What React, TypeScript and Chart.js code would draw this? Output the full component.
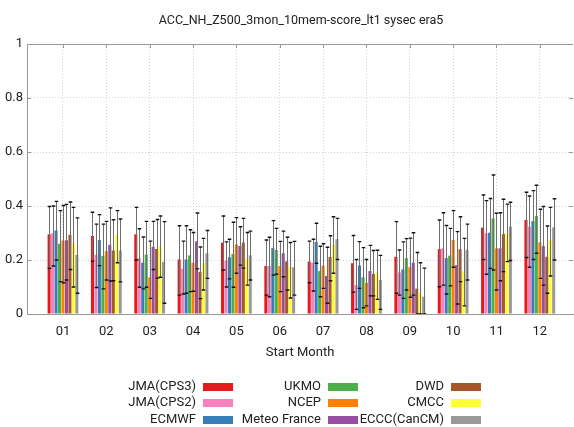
import React, { useEffect, useRef } from 'react';
import { Chart, registerables } from 'chart.js';

Chart.register(...registerables);

const titleText = 'ACC_NH_Z500_3mon_10mem-score_lt1 sysec era5';
const xAxisTitle = 'Start Month';
const months = ['01', '02', '03', '04', '05', '06', '07', '08', '09', '10', '11', '12'];
const yTicks = [0, 0.2, 0.4, 0.6, 0.8, 1];

const seriesNames = ['JMA(CPS3)', 'JMA(CPS2)', 'ECMWF', 'UKMO', 'NCEP', 'Meteo France', 'DWD', 'CMCC', 'ECCC(CanCM)'];
const seriesColors = ['#E41A1C', '#F781BF', '#377EB8', '#4DAF4A', '#FF7F00', '#984EA3', '#A65628', '#FFFF33', '#999999'];

// score values per month
const jmaCps3 = [0.295, 0.289, 0.295, 0.202, 0.264, 0.178, 0.194, 0.188, 0.212, 0.240, 0.320, 0.348];
const jmaCps2 = [0.299, 0.219, 0.207, 0.168, 0.198, 0.178, 0.190, 0.107, 0.154, 0.243, 0.299, 0.323];
const ecmwf = [0.309, 0.274, 0.190, 0.202, 0.210, 0.244, 0.267, 0.180, 0.165, 0.207, 0.301, 0.344];
const ukmo = [0.260, 0.215, 0.220, 0.217, 0.222, 0.237, 0.159, 0.136, 0.207, 0.216, 0.354, 0.363];
const ncep = [0.272, 0.233, 0.136, 0.190, 0.257, 0.178, 0.179, 0.116, 0.173, 0.274, 0.243, 0.265];
const meteoFrance = [0.273, 0.256, 0.249, 0.269, 0.252, 0.225, 0.141, 0.159, 0.190, 0.181, 0.243, 0.252];
const dwd = [0.293, 0.235, 0.241, 0.156, 0.265, 0.195, 0.211, 0.148, 0.094, 0.240, 0.296, 0.212];
const cmcc = [0.262, 0.293, 0.250, 0.188, 0.206, 0.173, 0.256, 0.153, 0.079, 0.157, 0.299, 0.274];
const ecccCanCM = [0.219, 0.235, 0.193, 0.225, 0.217, 0.173, 0.277, 0.126, 0.064, 0.238, 0.323, 0.321];

// error bar upper bounds
const jmaCps3Hi = [0.398, 0.377, 0.395, 0.327, 0.363, 0.274, 0.270, 0.291, 0.342, 0.348, 0.441, 0.451];
const jmaCps2Hi = [0.400, 0.333, 0.316, 0.270, 0.267, 0.284, 0.277, 0.202, 0.237, 0.375, 0.420, 0.437];
const ecmwfHi = [0.417, 0.368, 0.285, 0.327, 0.277, 0.346, 0.336, 0.268, 0.267, 0.328, 0.428, 0.457];
const ukmoHi = [0.383, 0.333, 0.343, 0.312, 0.340, 0.317, 0.251, 0.246, 0.279, 0.317, 0.515, 0.477];
const ncepHi = [0.402, 0.343, 0.270, 0.302, 0.357, 0.269, 0.260, 0.202, 0.281, 0.383, 0.373, 0.388];
const meteoFranceHi = [0.406, 0.393, 0.343, 0.374, 0.323, 0.307, 0.247, 0.254, 0.301, 0.305, 0.375, 0.398];
const dwdHi = [0.415, 0.349, 0.350, 0.248, 0.354, 0.284, 0.290, 0.235, 0.228, 0.360, 0.425, 0.326];
const cmccHi = [0.395, 0.383, 0.363, 0.280, 0.302, 0.265, 0.360, 0.236, 0.190, 0.280, 0.407, 0.395];
const ecccCanCMHi = [0.356, 0.352, 0.342, 0.309, 0.307, 0.269, 0.354, 0.217, 0.170, 0.333, 0.414, 0.427];

// error bar lower bounds
const jmaCps3Lo = [0.169, 0.196, 0.200, 0.070, 0.163, 0.070, 0.116, 0.081, 0.077, 0.101, 0.202, 0.209];
const jmaCps2Lo = [0.178, 0.098, 0.099, 0.074, 0.100, 0.064, 0.085, 0.017, 0.070, 0.107, 0.147, 0.173];
const ecmwfLo = [0.200, 0.179, 0.093, 0.077, 0.130, 0.144, 0.188, 0.095, 0.058, 0.074, 0.169, 0.202];
const ukmoLo = [0.120, 0.093, 0.099, 0.083, 0.099, 0.147, 0.064, 0.023, 0.089, 0.104, 0.163, 0.225];
const ncepLo = [0.116, 0.126, 0.058, 0.084, 0.151, 0.083, 0.095, 0.030, 0.062, 0.173, 0.089, 0.132];
const meteoFranceLo = [0.126, 0.122, 0.165, 0.167, 0.181, 0.138, 0.040, 0.067, 0.070, 0.037, 0.123, 0.107];
const dwdLo = [0.165, 0.123, 0.133, 0.057, 0.170, 0.089, 0.123, 0.067, 0.000, 0.120, 0.157, 0.077];
const cmccLo = [0.100, 0.190, 0.136, 0.089, 0.107, 0.059, 0.151, 0.054, 0.000, 0.030, 0.194, 0.141];
const ecccCanCMLo = [0.077, 0.119, 0.040, 0.132, 0.126, 0.070, 0.202, 0.017, 0.000, 0.126, 0.198, 0.200];

const seriesValues = [jmaCps3, jmaCps2, ecmwf, ukmo, ncep, meteoFrance, dwd, cmcc, ecccCanCM];
const seriesHi = [jmaCps3Hi, jmaCps2Hi, ecmwfHi, ukmoHi, ncepHi, meteoFranceHi, dwdHi, cmccHi, ecccCanCMHi];
const seriesLo = [jmaCps3Lo, jmaCps2Lo, ecmwfLo, ukmoLo, ncepLo, meteoFranceLo, dwdLo, cmccLo, ecccCanCMLo];

const FONT = "Roboto, 'DejaVu Sans', sans-serif";
const TEXT_COLOR = '#222';
const AXIS_COLOR = '#999';

const errorBarPlugin = {
  id: 'errorBars',
  afterDatasetsDraw(chart: any) {
    const { ctx, chartArea } = chart;
    const yScale = chart.scales.y;
    ctx.save();
    ctx.beginPath();
    ctx.rect(chartArea.left, chartArea.top, chartArea.right - chartArea.left, chartArea.bottom - chartArea.top);
    ctx.clip();
    chart.data.datasets.forEach((ds: any, di: number) => {
      const meta = chart.getDatasetMeta(di);
      meta.data.forEach((el: any, i: number) => {
        const hi = ds.errHi[i];
        const lo = ds.errLo[i];
        const x = Math.round(el.x) + 0.5;
        const yh = yScale.getPixelForValue(hi);
        const yl = yScale.getPixelForValue(lo);
        const half = 1.8;
        ctx.strokeStyle = '#6e6e6e';
        ctx.lineWidth = 1;
        ctx.beginPath();
        ctx.moveTo(x, yh);
        ctx.lineTo(x, yl);
        ctx.stroke();
        ctx.strokeStyle = '#111';
        ctx.lineWidth = 1.4;
        ctx.beginPath();
        ctx.moveTo(x - half, yh);
        ctx.lineTo(x + half, yh);
        ctx.moveTo(x - half, yl);
        ctx.lineTo(x + half, yl);
        ctx.stroke();
      });
    });
    ctx.restore();
  },
};

const frameAndLegendPlugin = {
  id: 'frameAndLegend',
  beforeDatasetsDraw(chart: any) {
    const { ctx, chartArea, scales } = chart;
    ctx.save();
    ctx.strokeStyle = AXIS_COLOR;
    ctx.lineWidth = 1;
    ctx.beginPath();
    ctx.moveTo(chartArea.left, chartArea.top + 0.5);
    ctx.lineTo(chartArea.right, chartArea.top + 0.5);
    scales.x.ticks.forEach((t: any) => {
      const px = Math.round(scales.x.getPixelForValue(t.value)) + 0.5;
      ctx.moveTo(px, chartArea.top);
      ctx.lineTo(px, chartArea.top + 4);
    });
    scales.y.ticks.forEach((t: any) => {
      const py = Math.round(scales.y.getPixelForValue(t.value)) + 0.5;
      ctx.moveTo(chartArea.left, py);
      ctx.lineTo(chartArea.left + 4, py);
      ctx.moveTo(chartArea.right, py);
      ctx.lineTo(chartArea.right - 4, py);
    });
    ctx.stroke();
    ctx.restore();
  },
  afterDraw(chart: any) {
    const { ctx, chartArea } = chart;
    ctx.save();
    // title, centred over the plot area
    ctx.font = `12.5px ${FONT}`;
    ctx.fillStyle = TEXT_COLOR;
    ctx.textAlign = 'center';
    ctx.textBaseline = 'middle';
    ctx.fillText(titleText, (chartArea.left + chartArea.right) / 2 + 1, 21);
    // legend: three columns, label then swatch
    const colRight = [196, 321, 444];
    const rowY = [387, 403, 420];
    ctx.font = `13px ${FONT}`;
    ctx.textAlign = 'right';
    chart.data.datasets.forEach((ds: any, k: number) => {
      const col = Math.floor(k / 3);
      const row = k % 3;
      const tx = colRight[col];
      const ty = rowY[row];
      ctx.fillStyle = TEXT_COLOR;
      ctx.fillText(ds.label, tx, ty);
      ctx.fillStyle = ds.backgroundColor;
      ctx.fillRect(tx + 7, ty - 4, 30, 8);
    });
    ctx.restore();
  },
};

export default function App() {
  const canvasRef = useRef<HTMLCanvasElement | null>(null);

  useEffect(() => {
    if (!canvasRef.current) return;
    const datasets = seriesNames.map((name, k) => ({
      label: name,
      data: seriesValues[k].map((v, i) => ({ x: i + 1, y: v })),
      backgroundColor: seriesColors[k],
      borderWidth: 0,
      categoryPercentage: 0.72,
      barPercentage: 0.88,
      errHi: seriesHi[k],
      errLo: seriesLo[k],
    }));

    const chart = new Chart(canvasRef.current, {
      type: 'bar',
      data: { datasets: datasets as any },
      options: {
        animation: false,
        responsive: true,
        maintainAspectRatio: false,
        layout: { padding: { left: 0, right: 1, top: 44, bottom: 63 } },
        plugins: {
          legend: { display: false },
          tooltip: { enabled: false },
          title: { display: false, text: titleText },
        },
        scales: {
          x: {
            type: 'linear',
            offset: false,
            min: 0.17,
            max: 12.765,
            afterBuildTicks: (axis: any) => {
              axis.ticks = months.map((_, i) => ({ value: i + 1 }));
            },
            afterFit: (axis: any) => {
              axis.height = 50;
            },
            ticks: {
              color: TEXT_COLOR,
              font: { family: FONT, size: 13 },
              padding: 10,
              maxRotation: 0,
              autoSkip: false,
              callback: (v: any) => months[Math.round(Number(v)) - 1] ?? '',
            },
            grid: { color: '#d4d4d4', drawTicks: false, lineWidth: 1, offset: false },
            border: { display: true, color: AXIS_COLOR, dash: [1, 2] },
            title: {
              display: true,
              text: xAxisTitle,
              color: TEXT_COLOR,
              font: { family: FONT, size: 13 },
              padding: { top: 0, bottom: 3 },
            },
          },
          y: {
            min: 0,
            max: 1,
            afterBuildTicks: (axis: any) => {
              axis.ticks = yTicks.map((v) => ({ value: v }));
            },
            afterFit: (axis: any) => {
              axis.width = 27;
            },
            ticks: {
              color: TEXT_COLOR,
              font: { family: FONT, size: 13 },
              padding: 4,
              callback: (v: any) => String(Number(Number(v).toFixed(1))),
            },
            grid: { color: '#d4d4d4', drawTicks: false, lineWidth: 1 },
            border: { display: true, color: AXIS_COLOR, dash: [1, 2] },
          },
        },
      },
      plugins: [errorBarPlugin, frameAndLegendPlugin],
    });
    return () => chart.destroy();
  }, []);

  return (
    <div style={{ position: 'absolute', left: 0, top: 0, width: 574, height: 427 }}>
      <canvas ref={canvasRef} />
    </div>
  );
}
